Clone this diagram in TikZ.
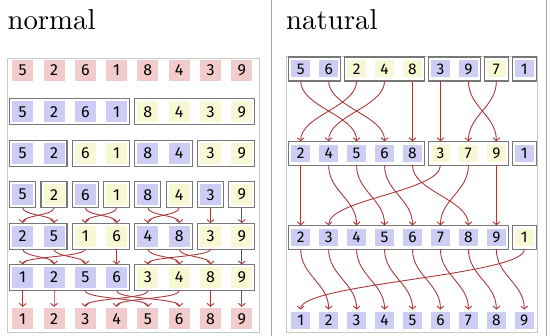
\documentclass[tikz,border=0pt]{standalone}
\usepackage{fontspec}
\newfontfamily\digitfont{Fira Sans}
\newfontfamily\titlefont[Extension=.otf]{lmroman10-regular}
\usetikzlibrary{arrows.meta,fit}
\definecolor{cpink}{RGB}{242,204,204}
\definecolor{cblue}{RGB}{204,204,245}
\definecolor{cyel}{RGB}{248,248,212}
\definecolor{carrow}{RGB}{168,58,58}
\definecolor{cbox}{RGB}{120,120,120}
\definecolor{cframe}{RGB}{200,200,200}
\definecolor{csep}{RGB}{165,165,165}
\tikzset{
  cellL/.style={minimum width=21pt,minimum height=21pt,inner sep=0pt,outer xsep=0pt,outer ysep=2.5pt,
    font=\digitfont\fontsize{16}{16}\selectfont},
  cellR/.style={minimum width=19.5pt,minimum height=17pt,inner sep=0pt,outer xsep=0pt,outer ysep=3.5pt,
    font=\digitfont\fontsize{15.5}{16}\selectfont},
  grp/.style={draw=cbox,line width=1.1pt,inner xsep=2.5pt,inner ysep=0pt,outer sep=0pt},
  arr/.style={draw=carrow,line width=0.9pt,-{Straight Barb[length=3pt,width=7pt]}},
  title/.style={anchor=base west,inner sep=0pt,font=\titlefont\fontsize{28.8}{30}\selectfont},
}
\begin{document}
\begin{tikzpicture}[x=1pt,y=-1pt]
\useasboundingbox (0,0) rectangle (551,336);
% separators and frames
\draw[csep,line width=1pt] (271.5,0) -- (271.5,336);
\draw[csep,line width=1pt] (546.5,0) -- (546.5,336);
\draw[cframe,line width=1pt] (7.3,58.3) rectangle (259,332);
\draw[cframe,line width=1pt] (286,57) rectangle (537.5,332);
\node[title] (tnormal) at (7.3,30) {normal};
\node[title] (tnatural) at (286,29.7) {natural};

% ---------------- left panel ----------------
\foreach \v/\c [count=\i from 0] in {5/cpink,2/cpink,6/cpink,1/cpink,8/cpink,4/cpink,3/cpink,9/cpink}
  \node[cellL,fill=\c] (La\i) at ({22.7+31.3*\i},70.5) {\v};
\foreach \v/\c [count=\i from 0] in {5/cblue,2/cblue,6/cblue,1/cblue,8/cyel,4/cyel,3/cyel,9/cyel}
  \node[cellL,fill=\c] (Lb\i) at ({22.7+31.3*\i},111.9) {\v};
\foreach \v/\c [count=\i from 0] in {5/cblue,2/cblue,6/cyel,1/cyel,8/cblue,4/cblue,3/cyel,9/cyel}
  \node[cellL,fill=\c] (Lc\i) at ({22.7+31.3*\i},153.3) {\v};
\foreach \v/\c [count=\i from 0] in {5/cblue,2/cyel,6/cblue,1/cyel,8/cblue,4/cyel,3/cblue,9/cyel}
  \node[cellL,fill=\c] (Ld\i) at ({22.7+31.3*\i},194.7) {\v};
\foreach \v/\c [count=\i from 0] in {2/cblue,5/cblue,1/cyel,6/cyel,4/cblue,8/cblue,3/cyel,9/cyel}
  \node[cellL,fill=\c] (Le\i) at ({22.7+31.3*\i},236.1) {\v};
\foreach \v/\c [count=\i from 0] in {1/cblue,2/cblue,5/cblue,6/cblue,3/cyel,4/cyel,8/cyel,9/cyel}
  \node[cellL,fill=\c] (Lf\i) at ({22.7+31.3*\i},277.5) {\v};
\foreach \v/\c [count=\i from 0] in {1/cpink,2/cpink,3/cpink,4/cpink,5/cpink,6/cpink,8/cpink,9/cpink}
  \node[cellL,fill=\c,outer ysep=1.5pt] (Lg\i) at ({22.7+31.3*\i},318.9) {\v};
% groups
\node[grp,fit=(Lb0)(Lb3)] (gLb1) {};
\node[grp,fit=(Lb4)(Lb7)] (gLb2) {};
\foreach \a/\b in {0/1,2/3,4/5,6/7} \node[grp,fit=(Lc\a)(Lc\b)] (gLc\a) {};
\foreach \a in {0,...,7} \node[grp,fit=(Ld\a)] (gLd\a) {};
\foreach \a/\b in {0/1,2/3,4/5,6/7} \node[grp,fit=(Le\a)(Le\b)] (gLe\a) {};
\node[grp,fit=(Lf0)(Lf3)] (gLf1) {};
\node[grp,fit=(Lf4)(Lf7)] (gLf2) {};
% arrows
\foreach \a/\b in {0/1,1/0,2/3,3/2,4/5,5/4,6/6,7/7}
  \draw[arr] (Ld\a.south) .. controls +(0,8) and +(0,-8) .. (Le\b.north);
\foreach \a/\b in {0/1,1/2,2/0,3/3,4/5,5/6,6/4,7/7}
  \draw[arr] (Le\a.south) .. controls +(0,8) and +(0,-8) .. (Lf\b.north);
\foreach \a/\b in {0/0,1/1,2/4,3/5,4/2,5/3,6/6,7/7}
  \draw[arr] (Lf\a.south) .. controls +(0,9) and +(0,-9) .. (Lg\b.north);

% ---------------- right panel ----------------
\foreach \v/\c [count=\i from 0] in {5/cblue,6/cblue,2/cyel,4/cyel,8/cyel,3/cblue,9/cblue,7/cyel,1/cblue}
  \node[cellR,fill=\c] (Ra\i) at ({300.7+27.95*\i},69) {\v};
\foreach \v/\c [count=\i from 0] in {2/cblue,4/cblue,5/cblue,6/cblue,8/cblue,3/cyel,7/cyel,9/cyel,1/cblue}
  \node[cellR,fill=\c] (Rb\i) at ({300.7+27.95*\i},153.3) {\v};
\foreach \v/\c [count=\i from 0] in {2/cblue,3/cblue,4/cblue,5/cblue,6/cblue,7/cblue,8/cblue,9/cblue,1/cyel}
  \node[cellR,fill=\c] (Rc\i) at ({300.7+27.95*\i},237.4) {\v};
\foreach \v [count=\i from 0] in {1,...,9}
  \node[cellR,fill=cblue,outer ysep=2.5pt] (Rd\i) at ({300.7+27.95*\i},320.6) {\v};
% groups
\node[grp,fit=(Ra0)(Ra1)] (gRa1) {};
\node[grp,fit=(Ra2)(Ra4)] (gRa2) {};
\node[grp,fit=(Ra5)(Ra6)] (gRa3) {};
\node[grp,fit=(Ra7)] (gRa4) {};
\node[grp,fit=(Ra8)] (gRa5) {};
\node[grp,fit=(Rb0)(Rb4)] (gRb1) {};
\node[grp,fit=(Rb5)(Rb7)] (gRb2) {};
\node[grp,fit=(Rb8)] (gRb3) {};
\node[grp,fit=(Rc0)(Rc7)] (gRc1) {};
\node[grp,fit=(Rc8)] (gRc2) {};
% arrows
\foreach \a/\b in {0/2,1/3,2/0,3/1,4/4,5/5,6/7,7/6}
  \draw[arr] (Ra\a.south) .. controls +(0,26) and +(0,-26) .. (Rb\b.north);
\foreach \a/\b in {0/0,1/2,2/3,3/4,4/6,5/1,6/5,7/7}
  \draw[arr] (Rb\a.south) .. controls +(0,26) and +(0,-26) .. (Rc\b.north);
\foreach \a/\b in {0/1,1/2,2/3,3/4,4/5,5/6,6/7,7/8,8/0}
  \draw[arr] (Rc\a.south) .. controls +(0,26) and +(0,-26) .. (Rd\b.north);
\end{tikzpicture}
\end{document}
